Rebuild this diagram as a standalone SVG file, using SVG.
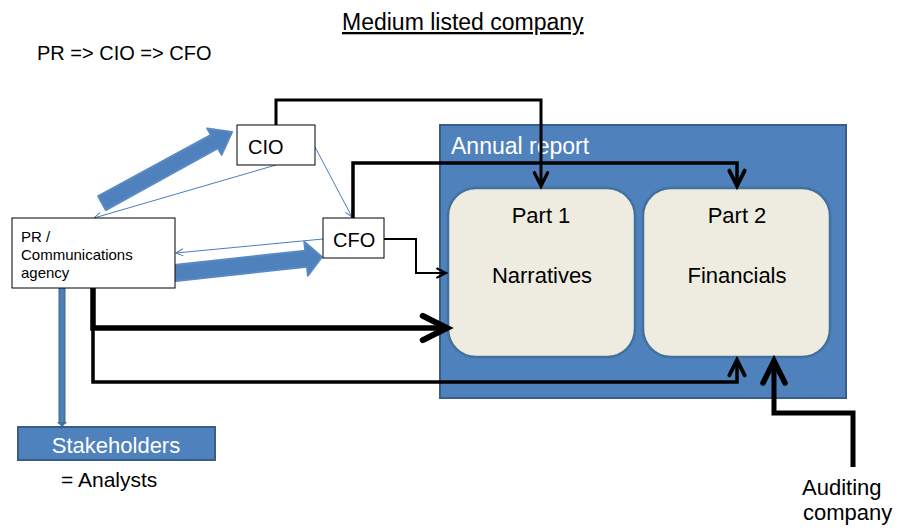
<svg xmlns="http://www.w3.org/2000/svg" width="897" height="528" viewBox="0 0 897 528">
<style>
  text { font-family: "Liberation Sans", Arial, sans-serif; fill: #000; }
  .box { fill: #fff; stroke: #000; stroke-width: 1; }
  .blue { fill: #4F81BD; stroke: #385D8A; stroke-width: 2; }
  .part { fill: #EEECE1; stroke: #41719C; stroke-width: 2.5; }
  .blk { fill: none; stroke: #000; stroke-linejoin: miter; marker-end: url(#chev); }
  .thin { fill: none; stroke: #4A7EBB; stroke-width: 1; marker-end: url(#thinArr); }
  .fat { fill: #4F81BD; stroke: #5A8AC4; stroke-width: 2; stroke-linejoin: round; filter: url(#soft); }
  .w { fill: #fff; }
  .mid { text-anchor: middle; }
</style>
<defs>
  <filter id="soft" x="-10%" y="-20%" width="120%" height="140%">
    <feGaussianBlur stdDeviation="0.7"/>
  </filter>
  <marker id="chev" viewBox="0 0 10 10" refX="9" refY="5" markerWidth="5.5" markerHeight="5.5" markerUnits="strokeWidth" orient="auto" overflow="visible">
    <path d="M1,1 L9,5 L1,9" fill="none" stroke="#000" stroke-width="2" stroke-linecap="round" stroke-linejoin="miter"/>
  </marker>
  <marker id="thinArr" viewBox="0 0 10 10" refX="9" refY="5" markerWidth="9" markerHeight="9" markerUnits="userSpaceOnUse" orient="auto">
    <path d="M1,1 L9,5 L1,9" fill="none" stroke="#4A7EBB" stroke-width="1.1"/>
  </marker>
</defs>

<text x="342" y="30" font-size="23" text-decoration="underline">Medium listed company</text>
<text x="37" y="60" font-size="20">PR =&gt; CIO =&gt; CFO</text>

<g id="annual-report">
  <rect class="blue" x="440" y="125" width="406" height="273"/>
  <text class="w" x="451" y="154" font-size="23">Annual report</text>
</g>
<g id="part1">
  <rect class="part" x="448" y="188" width="187" height="169" rx="28" ry="28"/>
  <text class="mid" x="541" y="223" font-size="22">Part 1</text>
  <text class="mid" x="542" y="283" font-size="22">Narratives</text>
</g>
<g id="part2">
  <rect class="part" x="643" y="188" width="187" height="169" rx="28" ry="28"/>
  <text class="mid" x="737" y="223" font-size="22">Part 2</text>
  <text class="mid" x="737" y="283" font-size="22">Financials</text>
</g>

<g id="connectors">
  <polygon class="fat" points="98.2,196.2 211.0,135.0 207.2,128.4 232,132 221.6,154.8 218.0,148.2 105.8,210.0"/>
  <polygon class="fat" points="174.1,265.0 305.2,250.7 304.3,241.8 322,257 307.9,275.6 307.0,266.7 175.9,281.0"/>
  <line class="thin" x1="276" y1="165" x2="94" y2="218"/>
  <line class="thin" x1="315" y1="147" x2="352" y2="217"/>
  <line class="thin" x1="323" y1="239" x2="176" y2="253"/>
  <g id="to-stakeholders">
    <line x1="62" y1="288" x2="62" y2="424" stroke="#41719C" stroke-width="7"/>
    <line x1="62" y1="288" x2="62" y2="423" stroke="#4F81BD" stroke-width="3.5"/>
    <polygon points="57,422 67,422 62,427" fill="#41719C"/>
  </g>
  <polyline class="blk" stroke-width="3" points="276,125 276,100 541,100 541,186"/>
  <polyline class="blk" stroke-width="3.5" points="353,218 353,163 737,163 737,186"/>
  <polyline class="blk" stroke-width="2" points="384,239 416,239 416,273 446,273"/>
  <polyline class="blk" stroke-width="5.5" points="93,288 93,328 447,328"/>
  <polyline class="blk" stroke-width="3.5" points="93,326 93,382 737,382 737,360"/>
  <polyline class="blk" stroke-width="5" points="853,467 853,413 774,413 774,361"/>
</g>

<g id="pr-agency">
  <rect class="box" x="12" y="218" width="163" height="70"/>
  <text x="21" y="241.5" font-size="15">PR /</text>
  <text x="21" y="259.8" font-size="15">Communications</text>
  <text x="21" y="278" font-size="15">agency</text>
</g>
<g id="cio">
  <rect class="box" x="237" y="125" width="78" height="40"/>
  <text x="248" y="154" font-size="20">CIO</text>
</g>
<g id="cfo">
  <rect class="box" x="323" y="218" width="61" height="40"/>
  <text x="333" y="247" font-size="20">CFO</text>
</g>
<g id="stakeholders">
  <rect class="blue" x="18" y="427" width="197" height="33"/>
  <text class="w mid" x="116" y="452.5" font-size="22">Stakeholders</text>
  <text x="61" y="487" font-size="21">= Analysts</text>
</g>
<g id="auditing">
  <text x="802" y="495" font-size="22">Auditing</text>
  <text x="803" y="520" font-size="22">company</text>
</g>
</svg>
